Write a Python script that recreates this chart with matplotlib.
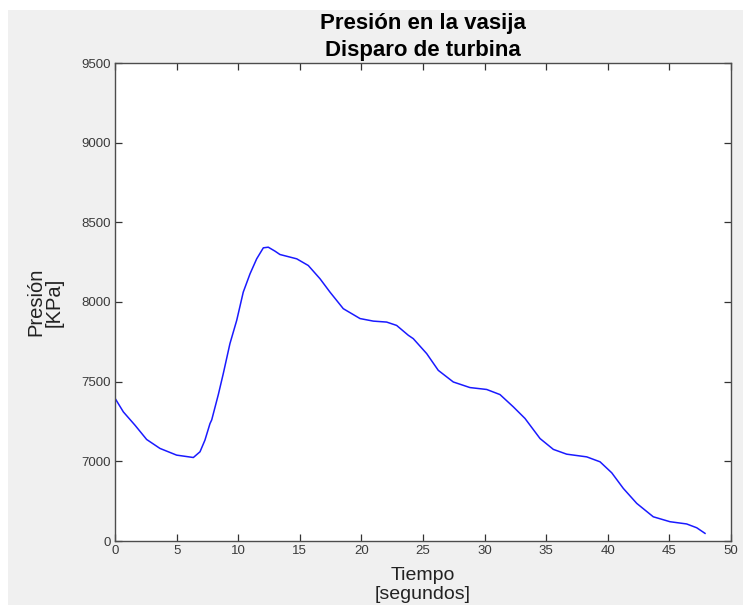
import matplotlib
matplotlib.use("Agg")
import matplotlib.pyplot as plt
from matplotlib.patches import Rectangle
import numpy as np

# Pressure trace in the reactor vessel after a turbine trip
tiempo = [0.0, 0.68, 1.62, 2.57, 3.65, 5.0, 6.36, 6.9, 7.3, 7.71, 7.85, 8.39,
          8.79, 9.33, 9.88, 10.41, 10.96, 11.5, 12.04, 12.44, 12.99, 13.39,
          14.75, 15.69, 16.64, 17.45, 18.53, 19.89, 20.97, 22.05, 22.86,
          23.81, 24.21, 25.3, 26.24, 27.46, 28.81, 30.17, 31.25, 32.33,
          33.28, 34.5, 35.58, 36.66, 38.29, 39.37, 40.32, 41.26, 42.35,
          43.69, 45.05, 46.4, 47.22, 47.89]
presion = [7396, 7310, 7227, 7137, 7081, 7039, 7024, 7060, 7133, 7237, 7260,
           7420, 7551, 7739, 7885, 8062, 8177, 8271, 8340, 8344, 8319, 8298,
           8271, 8229, 8146, 8062, 7958, 7896, 7880, 7874, 7853, 7791, 7770,
           7676, 7571, 7498, 7463, 7451, 7419, 7342, 7269, 7143, 7075, 7045,
           7028, 6997, 6928, 6830, 6736, 6652, 6621, 6607, 6583, 6548]

x_ticks = [0, 5, 10, 15, 20, 25, 30, 35, 40, 45, 50]
y_ticks = [6500, 7000, 7500, 8000, 8500, 9000, 9500]
y_tick_labels = ["0", "7000", "7500", "8000", "8500", "9000", "9500"]

plt.rcParams["font.family"] = ["Liberation Sans", "DejaVu Sans"]

W, H = 743, 607
fig = plt.figure(figsize=(W / 100, H / 100), dpi=100, facecolor="white")
fig.patches.append(Rectangle((8 / W, 2 / H), 1 - 8 / W, (H - 12) / H,
                             transform=fig.transFigure, facecolor="#f0f0f0",
                             edgecolor="none", zorder=-10))

ax = fig.add_axes([115 / W, 1 - 541 / H, (731 - 115) / W, (541 - 63) / H])
ax.set_facecolor("white")
ax.plot(tiempo, presion, color="#1a1aff", linewidth=1.1)

ax.set_xlim(0, 50)
ax.set_ylim(6500, 9500)
ax.set_xticks(x_ticks)
ax.set_yticks(y_ticks)
ax.set_yticklabels(y_tick_labels)

for side in ax.spines.values():
    side.set_color("#4d4d4d")
    side.set_linewidth(1.0)
ax.tick_params(direction="in", top=True, right=True, length=5, width=0.9,
               color="#333333", labelsize=9.5, labelcolor="#3a3a3a", pad=3)

ax.set_title("Presión en la vasija\nDisparo de turbina", fontsize=16,
             fontweight="bold", color="black", pad=5, linespacing=1.35)
ax.set_xlabel("Tiempo\n[segundos]", fontsize=14, color="#222222",
              labelpad=7, linespacing=1.15)
ax.set_ylabel("Presión\n[KPa]", fontsize=14.5, color="#222222",
              labelpad=13, linespacing=0.95)

fig.savefig("out.png", dpi=100, facecolor=fig.get_facecolor())
